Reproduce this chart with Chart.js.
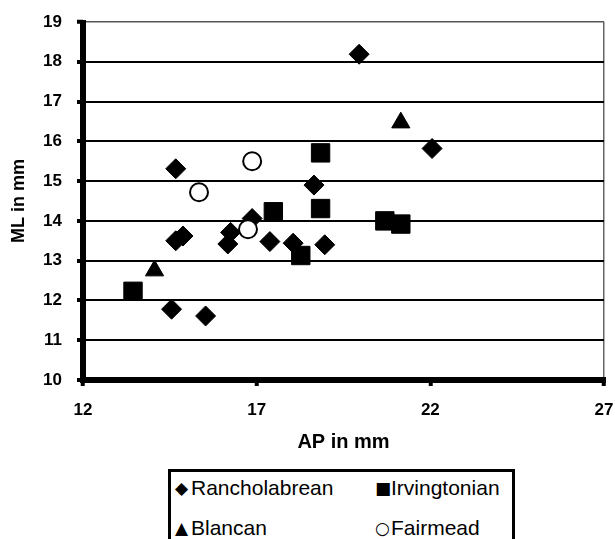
<!DOCTYPE html>
<html>
<head>
<meta charset="utf-8">
<script src="https://cdn.jsdelivr.net/npm/chart.js@4.4.0/dist/chart.umd.min.js"></script>
<style>
  html, body { margin: 0; padding: 0; background: #fff; }
  #wrap { position: relative; width: 615px; height: 539px; overflow: hidden; }
  #legend { position: absolute; left: 168px; top: 469px; width: 341px; height: 120px;
            border: 3px solid #000; background: #fff; font-family: "Liberation Sans", Arial, sans-serif; }
  .item { position: absolute; font-size: 21px; color: #000; white-space: nowrap; line-height: 24px; }
  .glyph { font-family: "DejaVu Sans", sans-serif; font-size: 17px; display: inline-block; width: 16px; vertical-align: 1px; }
</style>
</head>
<body>
<div id="wrap">
  <canvas id="c" width="615" height="539"></canvas>
  <div id="legend"></div>
</div>
<script>
// Series names and legend glyphs
const seriesNames = ["Rancholabrean", "Irvingtonian", "Blancan", "Fairmead"];
const legendGlyphs = ["\u25C6", "\u25A0", "\u25B2", "\u25CB"];

// Rancholabrean (AP, ML)
const rancholabreanAP = [14.67, 14.67, 14.88, 14.55, 15.53, 16.17, 16.25, 16.87, 17.38, 18.05, 18.65, 18.96, 19.95, 22.05];
const rancholabreanML = [15.31, 13.50, 13.62, 11.78, 11.61, 13.42, 13.71, 14.06, 13.48, 13.44, 14.90, 13.40, 18.19, 15.82];

// Irvingtonian (AP, ML)
const irvingtonianAP = [13.44, 17.48, 18.27, 18.84, 18.84, 20.69, 21.15];
const irvingtonianML = [12.23, 14.23, 13.13, 15.71, 14.31, 14.00, 13.92];

// Blancan (AP, ML)
const blancanAP = [14.06, 21.15];
const blancanML = [12.75, 16.47];

// Fairmead (AP, ML)
const fairmeadAP = [15.34, 16.87, 16.75];
const fairmeadML = [14.72, 15.50, 13.79];

// Axis ticks
const xTicks = [12, 17, 22, 27];
const yTicks = [10, 11, 12, 13, 14, 15, 16, 17, 18, 19];

const toPts = (xs, ys) => xs.map((x, i) => ({ x: x, y: ys[i] }));

const datasets = [
  { label: seriesNames[0], data: toPts(rancholabreanAP, rancholabreanML), pointStyle: 'rectRot', pointRadius: 10,
    backgroundColor: '#000', borderColor: '#000', borderWidth: 1, order: 4 },
  { label: seriesNames[1], data: toPts(irvingtonianAP, irvingtonianML), pointStyle: 'rect', pointRadius: 13,
    backgroundColor: '#000', borderColor: '#000', borderWidth: 1, order: 3 },
  { label: seriesNames[2], data: toPts(blancanAP, blancanML), pointStyle: 'triangle', pointRadius: 10.5,
    backgroundColor: '#000', borderColor: '#000', borderWidth: 1, order: 2 },
  { label: seriesNames[3], data: toPts(fairmeadAP, fairmeadML), pointStyle: 'circle', pointRadius: 9,
    backgroundColor: '#fff', borderColor: '#000', borderWidth: 2, order: 1 }
];

const tickFont = { family: "'Liberation Sans', Arial, sans-serif", size: 17, weight: 'bold' };

const zeroPad = (s) => { s.paddingLeft = 0; s.paddingRight = 0; s.paddingTop = 0; s.paddingBottom = 0; };

// Thick black axis lines along the plot frame (left and bottom edges)
const axisLines = {
  id: 'axisLines',
  beforeDatasetsDraw(chart) {
    const { ctx, chartArea: a } = chart;
    ctx.save();
    ctx.strokeStyle = '#000';
    ctx.lineWidth = 6;
    ctx.beginPath();
    ctx.moveTo(a.left, a.top - 2);
    ctx.lineTo(a.left, a.bottom + 3);
    ctx.moveTo(a.left - 3, a.bottom);
    ctx.lineTo(a.right + 2, a.bottom);
    ctx.stroke();
    ctx.restore();
  }
};

new Chart(document.getElementById('c'), {
  type: 'scatter',
  data: { datasets: datasets },
  plugins: [axisLines],
  options: {
    responsive: false,
    animation: false,
    layout: { autoPadding: false, padding: { left: 0, top: 22, right: 11, bottom: 79 } },
    plugins: { legend: { display: false }, tooltip: { enabled: false } },
    elements: { point: { hoverRadius: 10 } },
    scales: {
      x: {
        type: 'linear', min: xTicks[0], max: xTicks[xTicks.length - 1],
        afterBuildTicks: (s) => { s.ticks = xTicks.map(v => ({ value: v })); },
        afterFit: (s) => { s.height = 80; zeroPad(s); },
        ticks: { color: '#000', font: tickFont, padding: 14, maxRotation: 0 },
        grid: {
          drawOnChartArea: true, drawTicks: true, tickLength: 6, tickWidth: 4, tickColor: '#000',
          color: (ctx) => (ctx.tick && ctx.tick.value === 27) ? '#666' : 'rgba(0,0,0,0)', lineWidth: 1.5
        },
        border: { display: false },
        title: { display: true, text: 'AP in mm', color: '#000', padding: { top: 0, bottom: 6 },
                 font: { family: "'Liberation Sans', Arial, sans-serif", size: 20, weight: 'bold' } }
      },
      y: {
        type: 'linear', min: yTicks[0], max: yTicks[yTicks.length - 1],
        afterBuildTicks: (s) => { s.ticks = yTicks.map(v => ({ value: v })); },
        afterFit: (s) => { s.width = 83; zeroPad(s); },
        ticks: { color: '#000', font: tickFont, padding: 15 },
        grid: {
          drawTicks: true, tickLength: 6, tickWidth: 4, tickColor: '#000',
          color: (ctx) => (ctx.tick && ctx.tick.value === 19) ? '#555' : '#000',
          lineWidth: (ctx) => (ctx.tick && ctx.tick.value === 19) ? 1.5 : 2
        },
        border: { display: false },
        title: { display: true, text: 'ML in mm', color: '#000', padding: { top: 8, bottom: 0 },
                 font: { family: "'Liberation Sans', Arial, sans-serif", size: 18, weight: 'bold' } }
      }
    }
  }
});

// HTML legend, 2 columns
const legend = document.getElementById('legend');
const colLeft = [4, 204];
const rowTop = [4, 44];
seriesNames.forEach((name, i) => {
  const el = document.createElement('div');
  el.className = 'item';
  el.style.left = colLeft[i % 2] + 'px';
  el.style.top = rowTop[Math.floor(i / 2)] + 'px';
  const g = document.createElement('span');
  g.className = 'glyph';
  g.textContent = legendGlyphs[i];
  el.appendChild(g);
  el.appendChild(document.createTextNode(name));
  legend.appendChild(el);
});
</script>
</body>
</html>
